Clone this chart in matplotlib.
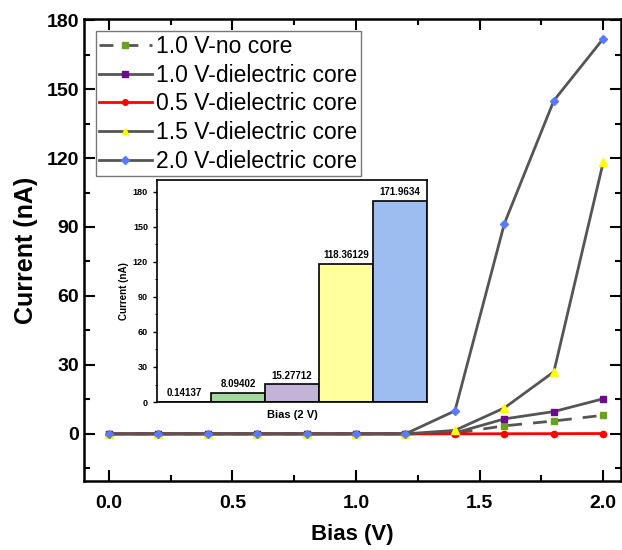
import matplotlib
matplotlib.use("Agg")
import matplotlib.pyplot as plt
from matplotlib.ticker import MultipleLocator

plt.rcParams['font.family'] = ['Liberation Sans', 'DejaVu Sans']

# bias sweep (V)
bias = [0.0, 0.2, 0.4, 0.6, 0.8, 1.0, 1.2, 1.4, 1.6, 1.8, 2.0]

# current (nA) for each condition
no_core_10 = [0, 0, 0, 0, 0, 0, 0, 0.3, 3.5, 5.6, 8.09402]
diel_10 = [0, 0, 0, 0, 0, 0, 0, 0.4, 6.5, 9.7, 15.27712]
diel_05 = [0, 0, 0, 0, 0, 0, 0, 0, 0.05, 0.08, 0.14137]
diel_15 = [0, 0, 0, 0, 0, 0, 0, 1.5, 11.3, 27.0, 118.36129]
diel_20 = [0, 0, 0, 0, 0, 0, 0, 10.0, 91.5, 145.0, 171.9634]

# inset bars at 2 V
bar_values = [0.14137, 8.09402, 15.27712, 118.36129, 171.9634]
bar_labels = ['0.14137', '8.09402', '15.27712', '118.36129', '171.9634']
bar_colors = ['#ffffff', '#a3d89d', '#c3b3d8', '#ffff9e', '#9dbcf0']

fig = plt.figure(figsize=(6.22, 5.5), dpi=100)
ax = fig.add_axes([0.135, 0.1255, 0.864, 0.84])

grey = '#555555'
ax.plot(bias, no_core_10, ls=(0, (5, 4)), color=grey, lw=2, marker='s', ms=4.5,
        mfc='#6aa121', mec='#6aa121', label='1.0 V-no core')
ax.plot(bias, diel_10, color=grey, lw=2, marker='s', ms=4.5,
        mfc='#6b0a8c', mec='#6b0a8c', label='1.0 V-dielectric core')
ax.plot(bias, diel_05, color='#ff0000', lw=2, marker='o', ms=4.5,
        mfc='#ff0000', mec='#ff0000', label='0.5 V-dielectric core')
ax.plot(bias, diel_15, color=grey, lw=2, marker='^', ms=5.5,
        mfc='#ffff00', mec='#ffff00', label='1.5 V-dielectric core')
ax.plot(bias, diel_20, color=grey, lw=2, marker='D', ms=4,
        mfc='#5b7bff', mec='#5b7bff', label='2.0 V-dielectric core')

ax.set_xlim(-0.1, 2.073)
ax.set_ylim(-20.5, 180.5)
ax.xaxis.set_major_locator(MultipleLocator(0.5))
ax.xaxis.set_minor_locator(MultipleLocator(0.25))
ax.yaxis.set_major_locator(MultipleLocator(30))
ax.yaxis.set_minor_locator(MultipleLocator(15))
ax.tick_params(which='both', direction='in', top=True, right=True, width=1.5,
               labelsize=14)
ax.tick_params(which='major', length=8)
ax.tick_params(which='minor', length=4)
ax.tick_params(axis='y', which='both', right=True, labelright=False)
ax.tick_params(axis='x', pad=10)
for lab in ax.get_xticklabels() + ax.get_yticklabels():
    lab.set_fontweight('bold')
for sp in ax.spines.values():
    sp.set_linewidth(1.8)

ax.set_xlabel('Bias (V)', fontsize=16, fontweight='bold', labelpad=9)
ax.set_ylabel('Current (nA)', fontsize=18, fontweight='bold', labelpad=6)

leg = ax.legend(loc='upper left', bbox_to_anchor=(0.013, 0.983), fontsize=16.5,
                frameon=True, fancybox=False, edgecolor='#555555',
                handlelength=2.3, handletextpad=0.2, borderpad=0.15,
                labelspacing=0.25, borderaxespad=0.2, markerscale=0.9)
leg.get_frame().set_linewidth(1.0)

# inset bar chart
ins = fig.add_axes([0.2524, 0.269, 0.434, 0.404])
pos = list(range(len(bar_values)))
bars = ins.bar(pos, bar_values, width=1.0, color=bar_colors,
               edgecolor='black', linewidth=1.2)
for x, v, t in zip(pos, bar_values, bar_labels):
    ins.text(x, v + 3, t, ha='center', va='bottom', fontsize=7,
             fontweight='bold')
ins.set_xlim(-0.5, 4.5)
ins.set_ylim(0, 190)
ins.set_xticks([])
ins.yaxis.set_major_locator(MultipleLocator(30))
ins.yaxis.set_minor_locator(MultipleLocator(15))
ins.tick_params(axis='y', which='both', direction='out', labelsize=6.5)
ins.tick_params(axis='y', which='major', length=3, width=1)
ins.tick_params(axis='y', which='minor', length=1.5, width=0.8)
for lab in ins.get_yticklabels():
    lab.set_fontweight('bold')
for sp in ins.spines.values():
    sp.set_linewidth(1.2)
ins.set_xlabel('Bias (2 V)', fontsize=8, fontweight='bold', labelpad=6)
ins.set_ylabel('Current (nA)', fontsize=7, fontweight='bold', labelpad=3)

fig.savefig('out.png', dpi=100)
